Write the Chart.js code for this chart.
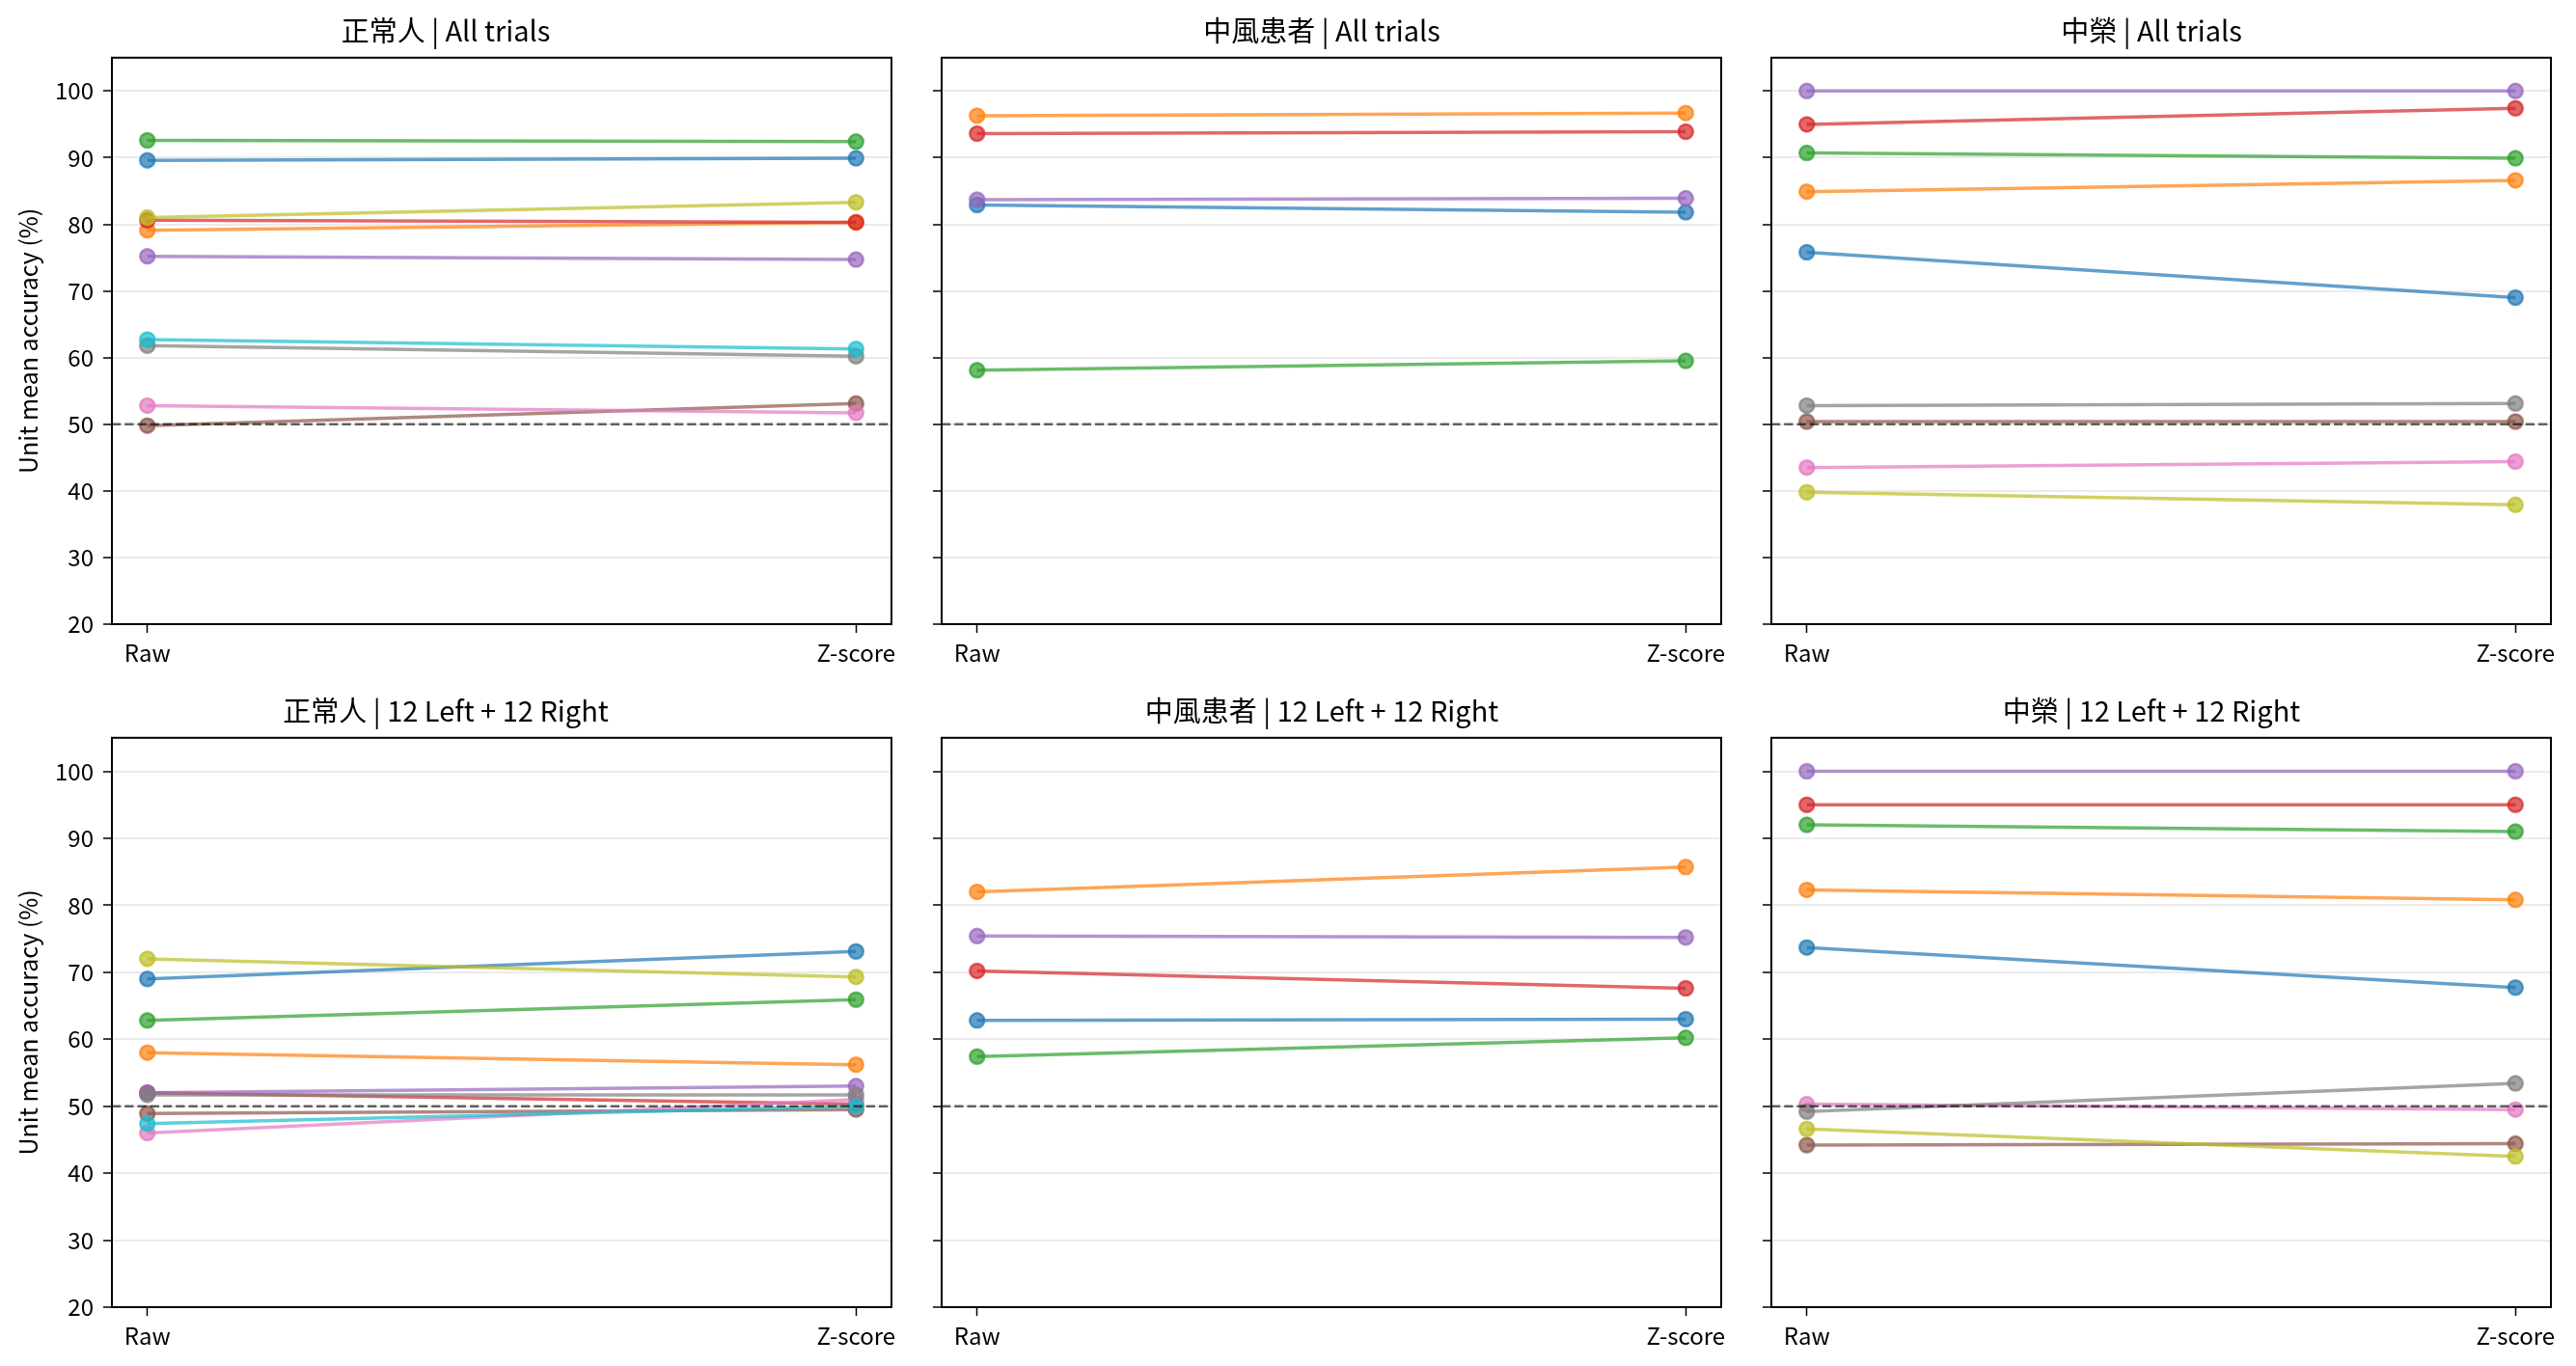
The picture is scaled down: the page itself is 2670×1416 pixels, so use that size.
<!DOCTYPE html>
<html>
<head>
<meta charset="utf-8">
<script src="https://cdn.jsdelivr.net/npm/chart.js@4.4.1/dist/chart.umd.min.js"></script>
<style>
  html, body { margin: 0; padding: 0; background: #fff; }
  #fig { position: relative; width: 2670px; height: 1416px; overflow: hidden; }
  #fig canvas { position: absolute; }
</style>
</head>
<body>
<div id="fig"></div>
<script>
// x categories and y ticks
const conditions = ['Raw', 'Z-score'];
const yTicks = [20, 30, 40, 50, 60, 70, 80, 90, 100];
const chanceLevel = 50;

// tab10 colours, series i uses colour i
const tab10 = ['31,119,180', '255,127,14', '44,160,44', '214,39,40', '148,103,189',
               '140,86,75', '227,119,194', '127,127,127', '188,189,34', '23,190,207'];

// 正常人 | All trials
const normalAllRaw = [89.6, 79.1, 92.6, 80.6, 75.2, 49.8, 52.8, 61.8, 81.0, 62.7];
const normalAllZ   = [89.9, 80.3, 92.4, 80.3, 74.7, 53.1, 51.7, 60.2, 83.3, 61.3];
// 中風患者 | All trials
const strokeAllRaw = [82.9, 96.3, 58.1, 93.6, 83.7];
const strokeAllZ   = [81.8, 96.7, 59.5, 93.9, 83.9];
// 中榮 | All trials
const vghAllRaw = [75.8, 84.9, 90.7, 95.0, 100, 50.4, 43.5, 52.8, 39.8];
const vghAllZ   = [69.0, 86.6, 89.9, 97.4, 100, 50.4, 44.4, 53.1, 37.9];
// 正常人 | 12 Left + 12 Right
const normalLRRaw = [69.0, 58.0, 62.8, 52.0, 52.0, 48.9, 46.0, 51.7, 72.0, 47.4];
const normalLRZ   = [73.1, 56.2, 65.9, 50.3, 53.0, 49.5, 51.0, 51.7, 69.3, 50.0];
// 中風患者 | 12 Left + 12 Right
const strokeLRRaw = [62.8, 82.0, 57.4, 70.2, 75.4];
const strokeLRZ   = [63.0, 85.7, 60.2, 67.6, 75.2];
// 中榮 | 12 Left + 12 Right
const vghLRRaw = [73.7, 82.3, 92.0, 95.0, 100, 44.2, 50.3, 49.2, 46.6];
const vghLRZ   = [67.7, 80.8, 91.0, 95.0, 100, 44.4, 49.5, 53.4, 42.5];

const panels = [
  { title: '正常人 | All trials', raw: normalAllRaw, z: normalAllZ, col: 0, row: 0 },
  { title: '中風患者 | All trials', raw: strokeAllRaw, z: strokeAllZ, col: 1, row: 0 },
  { title: '中榮 | All trials', raw: vghAllRaw, z: vghAllZ, col: 2, row: 0 },
  { title: '正常人 | 12 Left + 12 Right', raw: normalLRRaw, z: normalLRZ, col: 0, row: 1 },
  { title: '中風患者 | 12 Left + 12 Right', raw: strokeLRRaw, z: strokeLRZ, col: 1, row: 1 },
  { title: '中榮 | 12 Left + 12 Right', raw: vghLRRaw, z: vghLRZ, col: 2, row: 1 },
];

// layout (px)
const colLeft = [116, 976, 1836];
const axW = 808;
const rowTop = [0, 705];
const axH = [588, 591];
const headH = 59, footH = 50, sideR = 20;

Chart.defaults.font.family = "'Noto Sans CJK TC', 'Noto Sans', sans-serif";
Chart.defaults.color = '#000';

const framePlugin = {
  id: 'frame',
  afterDatasetsDraw(chart) {
    const { ctx, chartArea: a, scales } = chart;
    const yy = scales.y.getPixelForValue(chanceLevel);
    ctx.save();
    ctx.strokeStyle = 'rgba(0,0,0,0.6)';
    ctx.lineWidth = 2.5;
    ctx.setLineDash([9.25, 4]);
    ctx.beginPath();
    ctx.moveTo(a.left, yy);
    ctx.lineTo(a.right, yy);
    ctx.stroke();
    ctx.restore();
  },
  afterDraw(chart) {
    const { ctx, chartArea: a } = chart;
    ctx.save();
    ctx.strokeStyle = '#000';
    ctx.lineWidth = 2;
    ctx.strokeRect(a.left, a.top, a.right - a.left, a.bottom - a.top);
    ctx.restore();
  }
};

const fig = document.getElementById('fig');

panels.forEach(p => {
  const leftW = p.col === 0 ? colLeft[0] : 20;
  const cv = document.createElement('canvas');
  const w = leftW + axW + sideR;
  const h = headH + axH[p.row] + footH;
  cv.width = w; cv.height = h;
  cv.style.left = (colLeft[p.col] - leftW) + 'px';
  cv.style.top = rowTop[p.row] + 'px';
  cv.style.width = w + 'px'; cv.style.height = h + 'px';
  fig.appendChild(cv);

  const datasets = p.raw.map((v, i) => ({
    data: [{ x: 0, y: v }, { x: 1, y: p.z[i] }],
    borderColor: 'rgba(' + tab10[i] + ',0.7)',
    backgroundColor: 'rgba(' + tab10[i] + ',0.7)',
    pointBackgroundColor: 'rgba(' + tab10[i] + ',0.7)',
    pointBorderColor: 'rgba(' + tab10[i] + ',0.7)',
    borderWidth: 3.5,
    pointRadius: 7.5,
    pointBorderWidth: 2.5,
    order: p.raw.length - i
  }));

  new Chart(cv, {
    type: 'line',
    data: { datasets },
    plugins: [framePlugin],
    options: {
      responsive: false,
      animation: false,
      devicePixelRatio: 1,
      layout: { padding: { left: 0, right: sideR, top: 0, bottom: 0 } },
      plugins: {
        legend: { display: false },
        tooltip: { enabled: false },
        title: {
          display: true,
          text: p.title,
          font: { size: 29, weight: 'normal' },
          color: '#000',
          padding: { top: 15, bottom: 10 }
        }
      },
      scales: {
        x: {
          type: 'linear',
          min: -0.05,
          max: 1.05,
          afterBuildTicks: s => { s.ticks = conditions.map((c, i) => ({ value: i })); },
          afterFit: s => { s.height = footH; },
          ticks: {
            callback: v => conditions[v],
            font: { size: 24 },
            color: '#000',
            padding: 6,
            maxRotation: 0
          },
          grid: { drawOnChartArea: false, drawTicks: true, tickLength: 9, tickColor: '#000', tickWidth: 1.5 },
          border: { display: false }
        },
        y: {
          min: 20,
          max: 105,
          afterBuildTicks: s => { s.ticks = yTicks.map(v => ({ value: v })); },
          afterFit: s => { s.width = leftW; },
          ticks: {
            display: p.col === 0,
            font: { size: 24 },
            color: '#000',
            padding: 10
          },
          title: {
            display: p.col === 0,
            text: 'Unit mean accuracy (%)',
            font: { size: 25 },
            color: '#000',
            padding: { top: 14, bottom: 0 }
          },
          grid: { color: '#ebebeb', lineWidth: 2, drawTicks: true, tickLength: 9, tickColor: '#000', tickWidth: 1.5 },
          border: { display: false }
        }
      }
    }
  });
});
</script>
</body>
</html>
